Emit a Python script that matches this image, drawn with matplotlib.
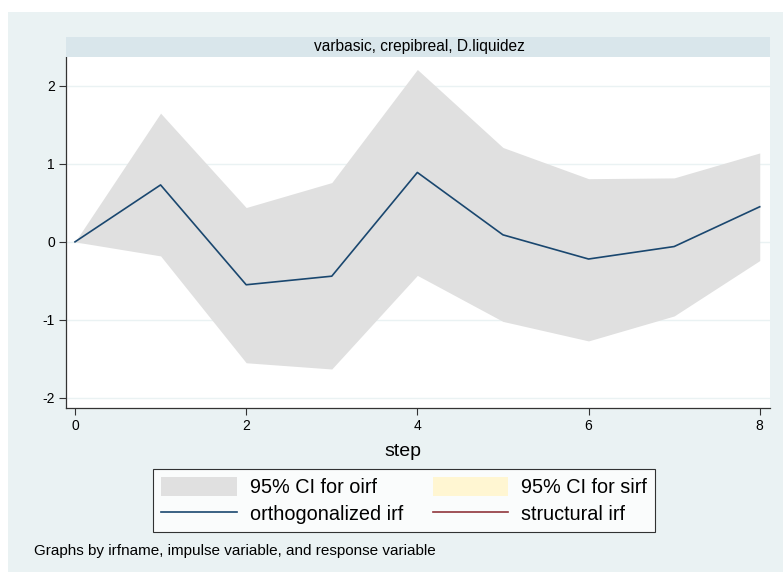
import matplotlib
matplotlib.use('Agg')
import matplotlib.pyplot as plt
from matplotlib.patches import Patch, Rectangle
from matplotlib.lines import Line2D

plt.rcParams['font.family'] = ['Liberation Sans', 'DejaVu Sans']
plt.rcParams['axes.unicode_minus'] = False

# impulse response: varbasic, crepibreal -> D.liquidez
steps = [0, 1, 2, 3, 4, 5, 6, 7, 8]
oirf = [0.0, 0.73, -0.55, -0.44, 0.89, 0.09, -0.22, -0.06, 0.45]
oirf_upper = [0.0, 1.65, 0.44, 0.76, 2.21, 1.21, 0.81, 0.82, 1.14]
oirf_lower = [0.0, -0.18, -1.55, -1.63, -0.43, -1.02, -1.27, -0.95, -0.24]

bg = '#eaf2f3'
strip = '#d9e6eb'
ci_gray = '#e0e0e0'
navy = '#1a476f'
maroon = '#90353b'
sirf_yellow = '#fff6d2'

fig = plt.figure(figsize=(7.83, 5.75), dpi=100)
fig.patch.set_facecolor('white')
fig.patches.append(Rectangle((8 / 783, 3 / 575), 1, 1 - 15 / 575, transform=fig.transFigure,
                             facecolor=bg, edgecolor='none', zorder=-10))

ax = fig.add_axes([66 / 783, 1 - 408 / 575, (770 - 66) / 783, (408 - 57) / 575])
ax.set_facecolor('white')

ax.fill_between(steps, oirf_lower, oirf_upper, color=ci_gray, linewidth=0, zorder=2)
ax.plot(steps, oirf, color=navy, linewidth=1.2, zorder=3)

ax.set_xlim(-0.105, 8.12)
ax.set_ylim(-2.13, 2.37)
ax.set_xticks([0, 2, 4, 6, 8])
ax.set_yticks([-2, -1, 0, 1, 2])
ax.grid(axis='y', color=bg, linewidth=1.0, zorder=1)
ax.set_axisbelow(True)
for s in ['top', 'right']:
    ax.spines[s].set_visible(False)
for s in ['left', 'bottom']:
    ax.spines[s].set_color('#333333')
    ax.spines[s].set_linewidth(0.9)
ax.tick_params(direction='out', length=5, width=0.8, color='#333333', labelsize=10, pad=3)
ax.set_xlabel('step', fontsize=14)
ax.xaxis.set_label_coords((403 - 66) / (770 - 66), -(452 - 408) / (408 - 57))
ax.xaxis.label.set_va('center')

# title strip
fig.patches.append(Rectangle((66 / 783, 1 - 57 / 575), (770 - 66) / 783, 20 / 575,
                             transform=fig.transFigure, facecolor=strip, edgecolor='none'))
fig.text(419 / 783, 1 - 47 / 575, 'varbasic, crepibreal, D.liquidez', ha='center', va='center', fontsize=11.2)

handles = [Patch(facecolor=ci_gray, edgecolor='none'),
           Line2D([], [], color=navy, linewidth=1.2),
           Patch(facecolor=sirf_yellow, edgecolor='none'),
           Line2D([], [], color=maroon, linewidth=1.2)]
labels = ['95% CI for oirf', 'orthogonalized irf', '95% CI for sirf', 'structural irf']
leg = fig.legend(handles, labels, ncol=2, loc='center', bbox_to_anchor=(404 / 783, 1 - 500.5 / 575),
                 fontsize=14.3, frameon=True, fancybox=False, edgecolor='black', facecolor='white',
                 handlelength=3.8, handleheight=1.1, columnspacing=1.5, handletextpad=0.65,
                 labelspacing=0.35, borderpad=0.4, borderaxespad=0)
leg.get_frame().set_linewidth(0.8)

fig.text(34 / 783, 1 - 551 / 575, 'Graphs by irfname, impulse variable, and response variable',
         ha='left', va='center', fontsize=11)

fig.savefig('out.png', dpi=100)
